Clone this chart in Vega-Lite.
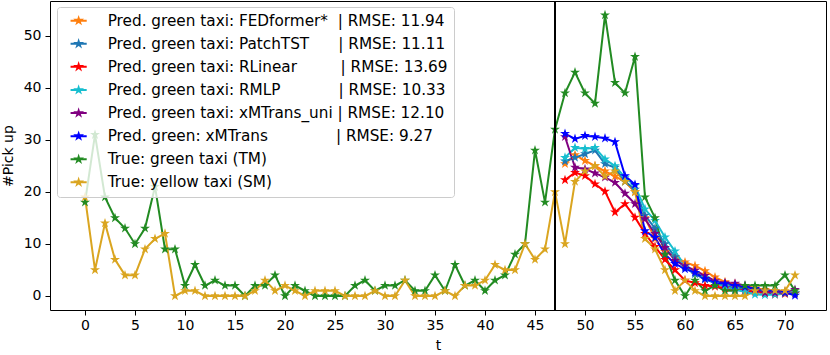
{
  "$schema": "https://vega.github.io/schema/vega-lite/v6.json",
  "width": 776,
  "height": 309,
  "autosize": {"type": "none"},
  "padding": {"left": 50, "top": 1, "right": 4, "bottom": 45},
  "background": "white",
  "config": {
    "font": "DejaVu Sans",
    "view": {"stroke": "black", "strokeWidth": 1},
    "axis": {"domain": false, "grid": false, "tickColor": "black", "tickSize": 5, "tickWidth": 1,
      "labelFont": "DejaVu Sans", "labelFontSize": 14, "labelColor": "black",
      "titleFont": "DejaVu Sans", "titleFontSize": 14, "titleFontWeight": "normal", "titleColor": "black"},
    "axisX": {"labelPadding": 3, "titlePadding": 6},
    "axisY": {"labelPadding": 4, "titlePadding": 8},
    "legend": {
      "orient": "none", "legendX": 7, "legendY": 6, "title": null,
      "labelFont": "DejaVu Sans", "labelFontSize": 15.28, "labelColor": "black", "labelLimit": 800,
      "fillColor": "rgba(255,255,255,0.8)", "strokeColor": "#cccccc", "cornerRadius": 3,
      "padding": 6, "rowPadding": 7.1,
      "symbolType": "M-3.23,0L3.23,0M0,-1L0.2245,-0.309L0.951,-0.309L0.363,0.118L0.588,0.809L0,0.382L-0.588,0.809L-0.363,0.118L-0.951,-0.309L-0.2245,-0.309Z",
      "symbolSize": 25, "symbolStrokeWidth": 2, "symbolOffset": 8, "labelOffset": 21.4
    }
  },
  "layer": [
    {
      "data": {"values": [
        {"t":0,"g":18,"y":19},{"t":1,"g":31,"y":5},{"t":2,"g":19,"y":14},{"t":3,"g":15,"y":7},
        {"t":4,"g":13,"y":4},{"t":5,"g":10,"y":4},{"t":6,"g":13,"y":9},{"t":7,"g":21,"y":11},
        {"t":8,"g":9,"y":12},{"t":9,"g":9,"y":0},{"t":10,"g":2,"y":1},{"t":11,"g":6,"y":1},
        {"t":12,"g":2,"y":0},{"t":13,"g":3,"y":0},{"t":14,"g":2,"y":0},{"t":15,"g":2,"y":0},
        {"t":16,"g":0,"y":0},{"t":17,"g":2,"y":1},{"t":18,"g":2,"y":3},{"t":19,"g":4,"y":1},
        {"t":20,"g":0,"y":2},{"t":21,"g":2,"y":1},{"t":22,"g":1,"y":0},{"t":23,"g":0,"y":1},
        {"t":24,"g":0,"y":1},{"t":25,"g":0,"y":1},{"t":26,"g":0,"y":0},{"t":27,"g":2,"y":0},
        {"t":28,"g":3,"y":0},{"t":29,"g":1,"y":1},{"t":30,"g":2,"y":0},{"t":31,"g":2,"y":0},
        {"t":32,"g":3,"y":3},{"t":33,"g":1,"y":0},{"t":34,"g":1,"y":0},{"t":35,"g":4,"y":0},
        {"t":36,"g":1,"y":1},{"t":37,"g":6,"y":0},{"t":38,"g":2,"y":2},{"t":39,"g":3,"y":2},
        {"t":40,"g":1,"y":3},{"t":41,"g":3,"y":6},{"t":42,"g":4,"y":5},{"t":43,"g":8,"y":5},
        {"t":44,"g":10,"y":10},{"t":45,"g":28,"y":7},{"t":46,"g":18,"y":9},{"t":47,"g":32,"y":20},
        {"t":48,"g":39,"y":10,"fed":25.4,"pat":25.9,"rl":22.3,"rmlp":26.6,"xu":30.6,"xm":31.2},
        {"t":49,"g":43,"y":22,"fed":27.1,"pat":26.6,"rl":23.7,"rmlp":28.5,"xu":24.7,"xm":30.2},
        {"t":50,"g":39,"y":24,"fed":26.0,"pat":27.3,"rl":23.1,"rmlp":28.3,"xu":24.4,"xm":30.8},
        {"t":51,"g":37,"y":25,"fed":25.0,"pat":28.0,"rl":21.5,"rmlp":28.5,"xu":23.6,"xm":30.6},
        {"t":52,"g":54,"y":23,"fed":24.0,"pat":25.4,"rl":20.1,"rmlp":26.3,"xu":22.8,"xm":30.3},
        {"t":53,"g":41,"y":24,"fed":23.0,"pat":24.7,"rl":16.1,"rmlp":25.0,"xu":21.8,"xm":29.6},
        {"t":54,"g":39,"y":22,"fed":22.0,"pat":22.0,"rl":17.7,"rmlp":22.8,"xu":19.7,"xm":23.1},
        {"t":55,"g":46,"y":20,"fed":20.0,"pat":20.5,"rl":15.1,"rmlp":21.2,"xu":17.7,"xm":21.4},
        {"t":56,"g":19,"y":11,"fed":15.0,"pat":15.5,"rl":12.0,"rmlp":16.7,"xu":14.8,"xm":12.5},
        {"t":57,"g":15,"y":9,"fed":11.0,"pat":13.0,"rl":9.5,"rmlp":14.5,"xu":12.0,"xm":11.2},
        {"t":58,"g":8,"y":5,"fed":8.5,"pat":10.0,"rl":7.0,"rmlp":11.3,"xu":9.3,"xm":8.0},
        {"t":59,"g":3,"y":1,"fed":7.5,"pat":7.5,"rl":5.0,"rmlp":8.6,"xu":6.8,"xm":6.2},
        {"t":60,"g":0,"y":3,"fed":6.5,"pat":5.5,"rl":3.0,"rmlp":5.8,"xu":5.8,"xm":5.2},
        {"t":61,"g":3,"y":1,"fed":5.8,"pat":4.2,"rl":2.5,"rmlp":4.5,"xu":4.9,"xm":4.5},
        {"t":62,"g":1,"y":0,"fed":4.8,"pat":3.2,"rl":2.0,"rmlp":3.5,"xu":3.9,"xm":3.3},
        {"t":63,"g":2,"y":0,"fed":3.6,"pat":2.5,"rl":1.8,"rmlp":2.5,"xu":2.9,"xm":2.6},
        {"t":64,"g":1,"y":0,"fed":2.7,"pat":2.0,"rl":1.5,"rmlp":1.8,"xu":2.5,"xm":2.3},
        {"t":65,"g":1,"y":0,"fed":2.3,"pat":1.5,"rl":1.2,"rmlp":1.2,"xu":2.4,"xm":2.0},
        {"t":66,"g":2,"y":0,"fed":1.8,"pat":1.2,"rl":1.0,"rmlp":0.8,"xu":2.0,"xm":1.7},
        {"t":67,"g":2,"y":1,"fed":1.5,"pat":1.0,"rl":0.8,"rmlp":0.3,"xu":1.3,"xm":1.4},
        {"t":68,"g":2,"y":1,"fed":1.2,"pat":0.8,"rl":0.5,"rmlp":0.2,"xu":0.6,"xm":1.0},
        {"t":69,"g":2,"y":1,"fed":1.0,"pat":0.7,"rl":0.3,"rmlp":0.3,"xu":0.6,"xm":0.9},
        {"t":70,"g":4,"y":1,"fed":0.8,"pat":0.6,"rl":0.4,"rmlp":0.5,"xu":0.6,"xm":0.7},
        {"t":71,"g":1,"y":4,"fed":0.6,"pat":0.5,"rl":0.5,"rmlp":0.6,"xu":1.2,"xm":0.1}
      ]},
      "transform": [
        {"fold": ["fed", "pat", "rl", "rmlp", "xu", "xm", "g", "y"], "as": ["series", "v"]},
        {"filter": "isValid(datum.v)"}
      ],
      "mark": {"type": "line", "strokeWidth": 2,
        "point": {"filled": true, "size": 110, "opacity": 1,
          "shape": "M0,-1L0.2245,-0.309L0.951,-0.309L0.363,0.118L0.588,0.809L0,0.382L-0.588,0.809L-0.363,0.118L-0.951,-0.309L-0.2245,-0.309Z"}},
      "encoding": {
        "x": {"field": "t", "type": "quantitative", "title": "t",
          "scale": {"domain": [-3.5, 74.1], "nice": false, "zero": false},
          "axis": {"values": [0,5,10,15,20,25,30,35,40,45,50,55,60,65,70]}},
        "y": {"field": "v", "type": "quantitative", "title": "#Pick up",
          "scale": {"domain": [-2.7, 56.7], "nice": false, "zero": false},
          "axis": {"values": [0,10,20,30,40,50]}},
        "color": {"field": "series", "type": "nominal",
          "scale": {"domain": ["fed", "pat", "rl", "rmlp", "xu", "xm", "g", "y"],
            "range": ["#ff7f0e", "#1f77b4", "#ff0000", "#17becf", "#800080", "#0000ff", "#228b22", "#daa520"]},
          "legend": {
            "labelExpr": "{'fed': 'Pred. green taxi: FEDformer*\u00a0\u00a0| RMSE: 11.94', 'pat': 'Pred. green taxi: PatchTST\u00a0\u00a0\u00a0\u00a0\u00a0\u00a0| RMSE: 11.11', 'rl': 'Pred. green taxi: RLinear\u00a0\u00a0\u00a0\u00a0\u00a0\u00a0\u00a0\u00a0\u00a0| RMSE: 13.69', 'rmlp': 'Pred. green taxi: RMLP\u00a0\u00a0\u00a0\u00a0\u00a0\u00a0\u00a0\u00a0\u00a0\u00a0\u00a0\u00a0| RMSE: 10.33', 'xu': 'Pred. green taxi: xMTrans_uni\u00a0| RMSE: 12.10', 'xm': 'Pred. green: xMTrans\u00a0\u00a0\u00a0\u00a0\u00a0\u00a0\u00a0\u00a0\u00a0\u00a0\u00a0\u00a0\u00a0\u00a0| RMSE: 9.27', 'g': 'True: green taxi (TM)', 'y': 'True: yellow taxi (SM)'}[datum.label]",
            "encode": {"symbols": {"update": {
              "fill": {"field": "value", "scale": "color"},
              "stroke": {"field": "value", "scale": "color"},
              "opacity": {"value": 1}, "fillOpacity": {"value": 1}, "strokeOpacity": {"value": 1}}}}
          }
        }
      }
    },
    {
      "data": {"values": [{"t": 47}]},
      "mark": {"type": "rule", "color": "black", "strokeWidth": 2},
      "encoding": {"x": {"field": "t", "type": "quantitative"}}
    }
  ]
}
